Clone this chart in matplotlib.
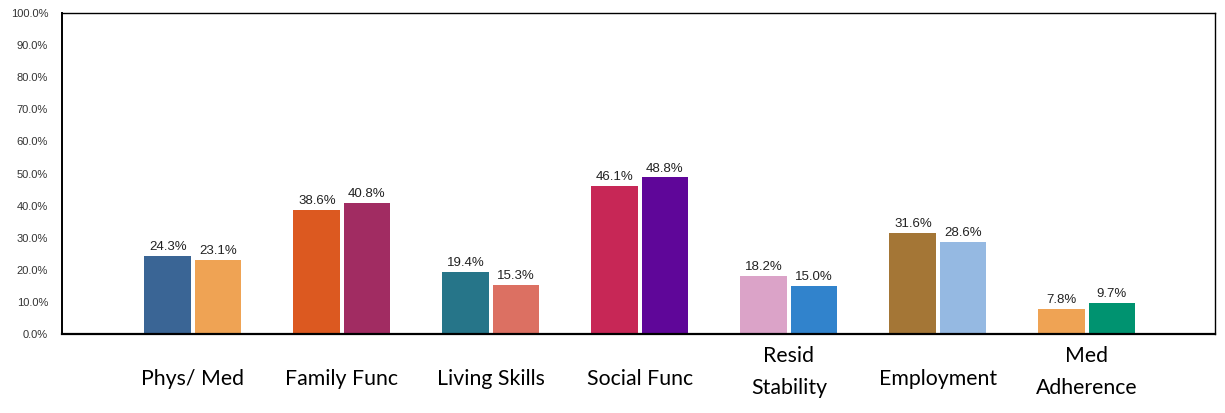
import numpy as np
import matplotlib.pyplot as plt
from matplotlib.ticker import PercentFormatter
import matplotlib.transforms as mtransforms

categories = ['Phys/ Med', 'Family Func', 'Living Skills', 'Social Func',
              'Resid\nStability', 'Employment', 'Med\nAdherence']
first_vals = [24.3, 38.6, 19.4, 46.1, 18.2, 31.6, 7.8]
second_vals = [23.1, 40.8, 15.3, 48.8, 15.0, 28.6, 9.7]
first_colors = ['#3A6595', '#DC5920', '#267589', '#C72756', '#DBA3C8', '#A47636', '#EFA354']
second_colors = ['#EFA354', '#A12C62', '#DC7062', '#5F0699', '#3183CC', '#95B9E2', '#009370']

fig = plt.figure(figsize=(12.25, 4.13), dpi=100)
ax = fig.add_axes([0.0506, 0.1913, 0.9412, 0.7772])

x = np.arange(len(categories))
w = 0.315
off = 0.168
b1 = ax.bar(x - off, first_vals, w, color=first_colors)
b2 = ax.bar(x + off, second_vals, w, color=second_colors)

for bars, vals in [(b1, first_vals), (b2, second_vals)]:
    for b, v in zip(bars, vals):
        ax.annotate(f'{v:.1f}%', (b.get_x() + b.get_width() / 2, v),
                    xytext=(0, 2), textcoords='offset points',
                    ha='center', va='bottom', fontsize=9.5,
                    family='Liberation Sans', color='#222222')

ax.set_ylim(0, 100)
ax.set_xlim(-0.879, 6.859)
ax.set_yticks(np.arange(0, 101, 10))
ax.yaxis.set_major_formatter(PercentFormatter(decimals=1))
ax.tick_params(axis='y', length=0, pad=10, labelsize=8, labelcolor='#333333')
for lab in ax.get_yticklabels():
    lab.set_family('Liberation Sans')
ax.set_xticks([])

for s in ax.spines.values():
    s.set_color('black')
    s.set_linewidth(1.0)
ax.spines['bottom'].set_linewidth(1.6)
ax.spines['left'].set_linewidth(1.4)

trans = mtransforms.blended_transform_factory(ax.transData, ax.transAxes)
for xi, cat in zip(x, categories):
    ypos = -0.117 if '\n' in cat else -0.14
    ax.text(xi, ypos, cat, transform=trans, ha='center', va='center',
            fontsize=15.3, family='Lato', linespacing=1.75, color='black')

fig.savefig('out.png', dpi=100)
